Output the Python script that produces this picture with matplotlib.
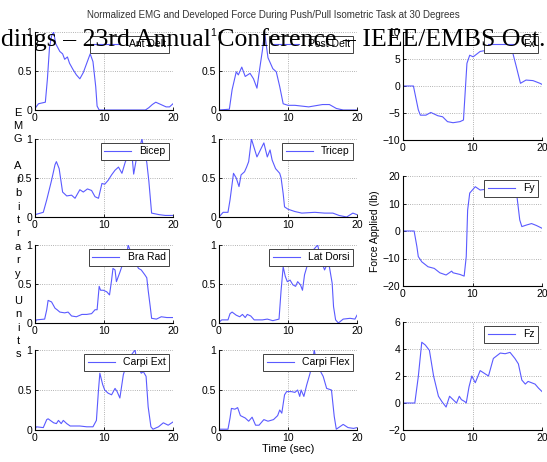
import matplotlib
matplotlib.use("Agg")
import matplotlib.pyplot as plt

# ------------------------------------------------------------
# Data (time in sec, EMG normalised, force in lb)
# ------------------------------------------------------------
ant_delt_t = [0, 0.5, 1, 1.5, 1.8, 2.1, 2.4, 2.7, 3.0, 3.3, 3.6, 4.0, 4.3, 4.7, 5.0, 5.5, 6.0, 6.5,
              7.0, 7.5, 8.0, 8.4, 8.8, 9.0, 9.3, 10, 12, 14, 16, 16.5, 17, 17.5, 18, 18.5, 19, 19.5, 20]
ant_delt_v = [0.02, 0.08, 0.09, 0.1, 0.4, 0.8, 0.95, 1.0, 0.85, 0.8, 0.75, 0.72, 0.65, 0.68, 0.6, 0.52,
              0.45, 0.4, 0.48, 0.6, 0.72, 0.62, 0.3, 0.05, 0.0, 0.0, 0.0, 0.0, 0.0, 0.03, 0.07, 0.1,
              0.08, 0.06, 0.04, 0.04, 0.08]

post_delt_t = [0, 1.5, 1.9, 2.5, 2.8, 3.3, 3.8, 4.5, 5.0, 5.5, 5.9, 6.3, 6.6, 7.1, 7.8, 8.3, 8.8, 9.3,
               10, 11, 13, 15, 16, 17, 18, 20]
post_delt_v = [0, 0.01, 0.26, 0.49, 0.45, 0.55, 0.43, 0.47, 0.4, 0.28, 0.53, 0.77, 1.0, 0.67, 0.53,
               0.49, 0.3, 0.08, 0.06, 0.06, 0.04, 0.07, 0.07, 0.02, 0.0, 0.0]

bicep_t = [0, 1.2, 1.7, 2.4, 2.9, 3.1, 3.5, 4.0, 4.6, 5.3, 5.8, 6.5, 7.0, 7.6, 8.2, 8.7, 9.2, 9.7,
           10.1, 10.6, 11.1, 11.6, 12.1, 12.6, 13.1, 13.6, 14.0, 14.3, 14.8, 15.2, 15.5, 15.8, 16.2,
           16.5, 16.9, 18.0, 18.9, 20]
bicep_v = [0.03, 0.06, 0.22, 0.47, 0.67, 0.71, 0.62, 0.32, 0.27, 0.28, 0.24, 0.35, 0.32, 0.36, 0.34,
           0.26, 0.24, 0.43, 0.42, 0.47, 0.54, 0.6, 0.64, 0.56, 0.71, 0.78, 0.85, 0.55, 0.8, 0.9,
           1.0, 0.85, 0.7, 0.46, 0.05, 0.03, 0.02, 0.02]

tricep_t = [0, 0.6, 1.3, 1.6, 2.1, 2.5, 2.9, 3.2, 3.7, 4.0, 4.3, 4.7, 5.5, 6.0, 6.5, 7.0, 7.4, 7.7,
            8.2, 8.8, 9.0, 9.3, 9.5, 10, 11, 12, 13.9, 15.3, 16.5, 17.4, 18.5, 19.4, 20]
tricep_v = [0.0, 0.06, 0.06, 0.22, 0.56, 0.5, 0.39, 0.54, 0.58, 0.64, 0.71, 1.0, 0.77, 0.86, 0.95,
            0.77, 0.86, 0.73, 0.62, 0.56, 0.5, 0.3, 0.13, 0.1, 0.07, 0.05, 0.06, 0.05, 0.05, 0.02,
            0.0, 0.05, 0.03]

bra_rad_t = [0, 0.2, 1.4, 1.7, 1.9, 2.4, 2.9, 3.2, 3.6, 4.3, 4.8, 5.3, 6.0, 6.8, 7.5, 8.2, 8.7, 9.0,
             9.3, 9.5, 9.9, 10.4, 10.8, 11.1, 11.3, 11.6, 11.8, 12.3, 12.8, 13.3, 13.5, 14.0, 14.5,
             15.0, 15.4, 15.9, 16.2, 16.4, 16.7, 16.9, 17.6, 18.3, 19.1, 20]
bra_rad_v = [0, 0.04, 0.05, 0.17, 0.29, 0.27, 0.19, 0.17, 0.14, 0.13, 0.14, 0.09, 0.08, 0.11, 0.11,
             0.12, 0.17, 0.17, 0.47, 0.42, 0.42, 0.4, 0.36, 0.55, 0.7, 0.68, 0.53, 0.65, 0.78, 0.88,
             1.0, 0.88, 0.78, 0.7, 0.68, 0.62, 0.58, 0.42, 0.21, 0.06, 0.05, 0.08, 0.07, 0.07]

lat_dorsi_t = [0, 0.4, 1.3, 1.6, 1.9, 2.5, 3.0, 3.4, 3.8, 4.1, 4.6, 5.1, 6.3, 7.0, 7.8, 8.7, 9.0, 9.3,
               9.6, 9.9, 10.3, 10.7, 11.1, 11.4, 11.8, 12.1, 12.4, 12.9, 13.6, 14.3, 14.8, 15.3, 15.6,
               16.0, 16.4, 16.6, 16.9, 17.3, 18.0, 19.0, 19.7, 20]
lat_dorsi_v = [0.01, 0.04, 0.04, 0.12, 0.14, 0.1, 0.08, 0.11, 0.07, 0.11, 0.09, 0.04, 0.04, 0.05, 0.03,
               0.05, 0.42, 0.72, 0.6, 0.53, 0.55, 0.49, 0.47, 0.53, 0.49, 0.42, 0.62, 0.77, 0.93, 1.0,
               0.8, 0.68, 0.74, 0.72, 0.51, 0.21, 0.04, 0.0, 0.05, 0.06, 0.05, 0.1]

carpi_ext_t = [0, 0.2, 1.2, 1.7, 1.9, 2.7, 3.1, 3.4, 3.8, 4.1, 4.6, 5.1, 6.5, 7.5, 8.4, 8.9, 9.2, 9.4,
               9.8, 10.1, 10.6, 11.1, 11.6, 11.9, 12.3, 12.8, 13.3, 13.8, 14.5, 14.9, 15.4, 15.7, 16.1,
               16.4, 16.8, 17.1, 17.9, 18.6, 19.3, 20]
carpi_ext_v = [0.01, 0.04, 0.03, 0.13, 0.14, 0.09, 0.08, 0.12, 0.08, 0.12, 0.08, 0.05, 0.05, 0.04, 0.04,
               0.12, 0.5, 0.71, 0.57, 0.5, 0.46, 0.44, 0.52, 0.48, 0.4, 0.69, 0.83, 0.92, 1.0, 0.79,
               0.71, 0.73, 0.67, 0.29, 0.04, 0.01, 0.04, 0.09, 0.06, 0.1]

carpi_flex_t = [0, 1.3, 1.6, 1.8, 2.3, 2.7, 3.1, 3.8, 4.3, 4.8, 5.3, 5.8, 6.5, 7.1, 7.9, 8.5, 8.8, 9.1,
                9.5, 9.8, 10.5, 11.0, 11.4, 11.7, 11.9, 12.3, 12.7, 13.2, 13.6, 13.8, 14.2, 14.6, 15.1,
                15.6, 16.3, 16.7, 17.0, 17.5, 18.0, 18.7, 19.5, 20]
carpi_flex_v = [0.01, 0.01, 0.15, 0.27, 0.26, 0.28, 0.18, 0.15, 0.11, 0.16, 0.06, 0.06, 0.13, 0.11, 0.13,
                0.18, 0.25, 0.21, 0.44, 0.48, 0.48, 0.47, 0.5, 0.42, 0.5, 0.42, 0.56, 0.71, 0.87, 1.0,
                0.83, 0.75, 0.67, 0.52, 0.5, 0.17, 0.01, 0.04, 0.07, 0.03, 0.02, 0.03]

fx_t = [0, 1.5, 2.2, 2.5, 3.3, 4.0, 5.0, 5.7, 6.4, 7.2, 8.2, 8.7, 9.2, 9.6, 10.1, 11.1, 12, 13, 14, 15,
        15.8, 16.3, 16.9, 17.7, 18.7, 19.7, 20]
fx_v = [0, 0, -4.4, -5.4, -5.4, -4.9, -5.5, -5.7, -6.6, -6.8, -6.6, -6.3, 4.2, 5.7, 5.4, 6.4, 6.6, 6.8,
        6.5, 6.4, 6.1, 3.6, 0.5, 1.1, 1.0, 0.5, 0.3]

fy_t = [0, 1.6, 2.0, 2.2, 2.7, 3.6, 4.5, 5.3, 6.2, 7.0, 7.2, 8.2, 8.8, 9.1, 9.3, 9.6, 10.4, 11.1, 12,
        13, 14, 15, 16.0, 16.4, 16.8, 17.1, 17.8, 18.5, 19.2, 20]
fy_v = [0, 0, -5.7, -9.3, -11.2, -13, -13.6, -15.2, -16, -14.6, -15.2, -15.8, -16.4, -9.3, 7.6, 13.8,
        16.1, 14.9, 15.2, 15.0, 15.3, 15.0, 14.6, 12.5, 4, 1.6, 2.2, 2.7, 2.0, 1.0]

fz_t = [0, 1.7, 2.2, 2.7, 3.2, 3.8, 4.4, 5.1, 5.6, 6.2, 6.7, 7.2, 7.7, 8.1, 8.4, 8.9, 9.1, 9.5, 9.9,
        10.4, 11.1, 11.7, 12.3, 13.0, 14.0, 14.7, 15.4, 16.1, 16.6, 17.1, 17.6, 18.0, 19.0, 19.5, 20]
fz_v = [0, 0, 1.95, 4.5, 4.3, 3.9, 2.0, 0.5, 0.1, -0.3, 0.5, 0.25, 0.0, 0.5, 0.25, 0.1, 0.0, 1.2, 2.0,
        1.5, 2.4, 2.2, 2.0, 3.3, 3.7, 3.65, 3.75, 3.3, 2.9, 1.7, 1.4, 1.6, 1.4, 1.1, 0.85]

emg_names = [["Ant Delt", "Post Delt"], ["Bicep", "Tricep"], ["Bra Rad", "Lat Dorsi"],
             ["Carpi Ext", "Carpi Flex"]]
emg_data = [[(ant_delt_t, ant_delt_v), (post_delt_t, post_delt_v)],
            [(bicep_t, bicep_v), (tricep_t, tricep_v)],
            [(bra_rad_t, bra_rad_v), (lat_dorsi_t, lat_dorsi_v)],
            [(carpi_ext_t, carpi_ext_v), (carpi_flex_t, carpi_flex_v)]]
force_names = ["Fx", "Fy", "Fz"]
force_data = [(fx_t, fx_v), (fy_t, fy_v), (fz_t, fz_v)]
force_ylims = [(-10, 10), (-20, 20), (-2, 6)]
force_yticks = [[-10, -5, 0, 5, 10], [-20, -10, 0, 10, 20], [-2, 0, 2, 4, 6]]

LINE = "#5a5aff"
W, H = 547, 462

plt.rcParams["font.family"] = ["Liberation Sans", "DejaVu Sans"]
plt.rcParams["font.size"] = 7.5

fig = plt.figure(figsize=(W / 100, H / 100), dpi=100)


def style_axes(ax):
    ax.spines["top"].set_visible(False)
    ax.spines["right"].set_visible(False)
    ax.grid(True, linestyle=":", color="#9a9a9a", linewidth=0.6)
    ax.tick_params(direction="in", length=2, width=0.6, labelsize=7.5, pad=2)
    ax.set_xlim(0, 20)
    ax.set_xticks([0, 10, 20])


def add_legend(ax, name):
    leg = ax.legend([name], loc="upper right", fontsize=7.5, fancybox=False, framealpha=1,
                    edgecolor="#404040", borderaxespad=0.35, handlelength=2.6,
                    borderpad=0.35, handletextpad=0.8)
    leg.get_frame().set_linewidth(0.7)


# EMG panels (rows x 2 columns), pixel boxes: (top, bottom)
emg_rows = [(32, 110), (139, 217), (245, 323), (350, 430)]
emg_cols = [(35, 173), (219, 357)]
for r, (top, bot) in enumerate(emg_rows):
    for c, (lft, rgt) in enumerate(emg_cols):
        ax = fig.add_axes([lft / W, 1 - bot / H, (rgt - lft) / W, (bot - top) / H])
        t, v = emg_data[r][c]
        ax.plot(t, v, color=LINE, linewidth=0.8)
        style_axes(ax)
        ax.set_ylim(0, 1)
        ax.set_yticks([0, 0.5, 1])
        ax.set_yticklabels(["0", "0.5", "1"])
        add_legend(ax, emg_names[r][c])
        if r == 3 and c == 1:
            ax.set_xlabel("Time (sec)", fontsize=8, labelpad=1)

# Force panels
force_rows = [(32, 140), (176, 286), (322, 430)]
for i, (top, bot) in enumerate(force_rows):
    ax = fig.add_axes([403 / W, 1 - bot / H, 139 / W, (bot - top) / H])
    t, v = force_data[i]
    ax.plot(t, v, color=LINE, linewidth=0.8)
    style_axes(ax)
    ax.set_ylim(*force_ylims[i])
    ax.set_yticks(force_yticks[i])
    add_legend(ax, force_names[i])
    if i == 1:
        ax.set_ylabel("Force Applied (lb)", fontsize=7.5, labelpad=2)

# stacked EMG label
fig.text(18 / W, 1 - 233.5 / H, "\n".join("EMG Arbitrary Units"), fontsize=8,
         ha="center", va="center", linespacing=1.43)

fig.text(273 / W, 1 - 15 / H, "Normalized EMG and Developed Force During Push/Pull Isometric Task at 30 Degrees",
         fontsize=7, ha="center", va="center", color="#333333")

# scan artefact: running header from the paper, overprinted
hdr = fig.text(273 / W, 1 - 40 / H, "dings \u2013 23rd Annual Conference \u2013 IEEE/EMBS Oct.",
               family="Liberation Serif", fontsize=20, ha="center", va="center", color="black")
fig.canvas.draw()
wpx = hdr.get_window_extent().width
hdr.set_fontsize(20 * 543 / wpx)

fig.savefig("out.png", dpi=100)
